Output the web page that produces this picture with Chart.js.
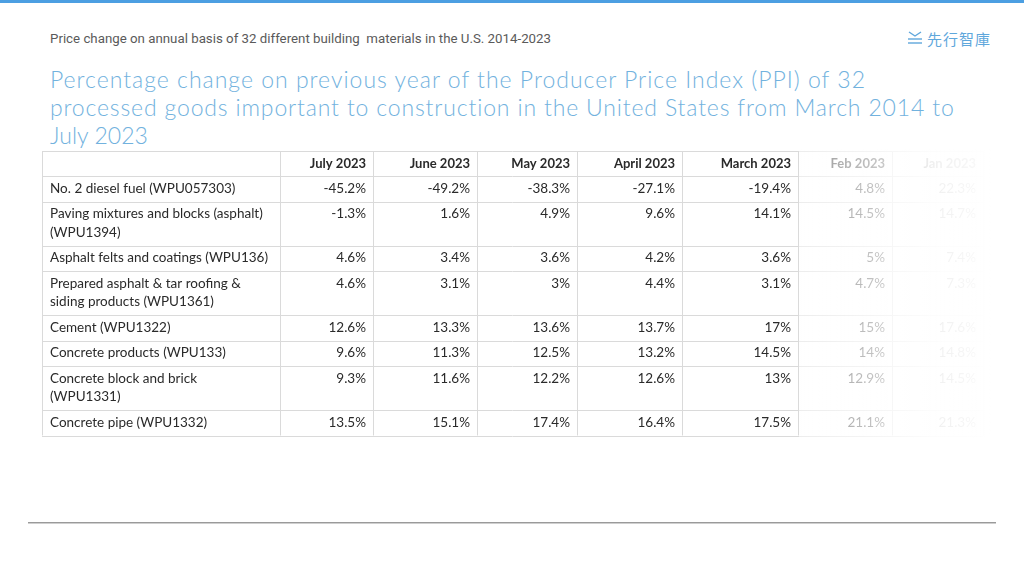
<!DOCTYPE html>
<html>
<head>
<meta charset="utf-8">
<script src="https://cdn.jsdelivr.net/npm/chart.js@4/dist/chart.umd.min.js"></script>
<style>
  html,body{margin:0;padding:0;background:#fff;}
  body{width:1024px;height:576px;position:relative;overflow:hidden;}
  #topbar{position:absolute;left:0;top:0;width:1024px;height:3px;background:#4c9fe2;}
  #sub{position:absolute;left:50px;top:32px;font:12px Roboto, sans-serif;color:#5a5a5a;white-space:pre;transform-origin:0 0;}
  .tl{position:absolute;left:50px;font:300 23px "Lato", sans-serif;color:#72b2de;white-space:pre;}
  #logo{position:absolute;left:907px;top:28px;height:20px;display:flex;align-items:center;}
  #logo span{font:15px "Noto Sans CJK TC", sans-serif;color:#5fa7dc;letter-spacing:1px;margin-left:4px;}
  #bottomline{position:absolute;left:28px;top:522px;width:968px;height:1px;background:#9a9a9a;border-bottom:1px solid #cfcfcf;}
  canvas{position:absolute;left:0;top:0;}
</style>
</head>
<body>
<div id="topbar"></div>
<div id="sub">Price change on annual basis of 32 different building  materials in the U.S. 2014-2023</div>
<div id="logo">
  <svg width="16" height="14" viewBox="0 0 16 14"><polyline points="2,1 8,5 14,1" fill="none" stroke="#5fa7dc" stroke-width="1.4"/><line x1="1" y1="8" x2="15" y2="8" stroke="#5fa7dc" stroke-width="1.4"/><line x1="1" y1="12" x2="15" y2="12" stroke="#5fa7dc" stroke-width="1.4"/></svg>
  <span>先行智庫</span>
</div>
<div class="tl" id="t1" style="top:65px">Percentage change on previous year of the Producer Price Index (PPI) of 32</div>
<div class="tl" id="t2" style="top:93px">processed goods important to construction in the United States from March 2014 to</div>
<div class="tl" id="t3" style="top:121px">July 2023</div>
<div id="bottomline"></div>
<canvas id="c" width="1024" height="576"></canvas>
<script>
// ---------------- DATA ----------------
const months = ["July 2023", "June 2023", "May 2023", "April 2023", "March 2023", "Feb 2023", "Jan 2023"];
const materials = [
  ["No. 2 diesel fuel (WPU057303)"],
  ["Paving mixtures and blocks (asphalt)", "(WPU1394)"],
  ["Asphalt felts and coatings (WPU136)"],
  ["Prepared asphalt & tar roofing &", "siding products (WPU1361)"],
  ["Cement (WPU1322)"],
  ["Concrete products (WPU133)"],
  ["Concrete block and brick", "(WPU1331)"],
  ["Concrete pipe (WPU1332)"]
];
const july2023  = [-45.2, -1.3, 4.6, 4.6, 12.6, 9.6, 9.3, 13.5];
const june2023  = [-49.2, 1.6, 3.4, 3.1, 13.3, 11.3, 11.6, 15.1];
const may2023   = [-38.3, 4.9, 3.6, 3, 13.6, 12.5, 12.2, 17.4];
const april2023 = [-27.1, 9.6, 4.2, 4.4, 13.7, 13.2, 12.6, 16.4];
const march2023 = [-19.4, 14.1, 3.6, 3.1, 17, 14.5, 13, 17.5];
const feb2023   = [4.8, 14.5, 5, 4.7, 15, 14, 12.9, 21.1];
const jan2023   = [22.3, 14.7, 7.4, 7.3, 17.6, 14.8, 14.5, 21.3];
const monthValues = [july2023, june2023, may2023, april2023, march2023, feb2023, jan2023];

// ---------------- LAYOUT (styles) ----------------
const colWidths = [238, 93, 104, 100, 105, 116, 94, 91];
const headerH = 25, rowPad = 7, lineH = 18.5;
const colEdges = [0];
colWidths.forEach(w => colEdges.push(colEdges[colEdges.length - 1] + w));
const rowEdges = [0, headerH];
materials.forEach(m => rowEdges.push(rowEdges[rowEdges.length - 1] + rowPad + lineH * m.length));
const totalW = colEdges[colEdges.length - 1];
const totalH = rowEdges[rowEdges.length - 1];

const FONT = '"Lato", "Open Sans", sans-serif';
const TXT = '#2a2a2a';
const GRID = '#dadada';

function fmt(v) { return String(v) + '%'; }

function fitWidth(el, w) {
  const r = el.getBoundingClientRect().width;
  el.style.transform = 'scaleX(' + (w / r) + ')';
}
function fitSpacing(el, w) {
  const r = el.getBoundingClientRect().width;
  const n = el.textContent.length;
  el.style.letterSpacing = ((w - r) / n) + 'px';
}
fitWidth(document.getElementById('sub'), 501);
fitSpacing(document.getElementById('t1'), 816);
fitSpacing(document.getElementById('t2'), 905);
fitSpacing(document.getElementById('t3'), 98);

const tablePlugin = {
  id: 'tablePlugin',
  afterDatasetsDraw(chart) {
    const { ctx } = chart;
    const x = chart.scales.x, y = chart.scales.y;
    const X = v => x.getPixelForValue(v);
    const Y = v => y.getPixelForValue(v);
    ctx.save();
    // grid
    ctx.strokeStyle = GRID;
    ctx.lineWidth = 1;
    colEdges.forEach(e => {
      const px = Math.round(X(e)) + 0.5;
      ctx.beginPath(); ctx.moveTo(px, Y(0)); ctx.lineTo(px, Y(totalH)); ctx.stroke();
    });
    rowEdges.forEach(e => {
      const py = Math.round(Y(e)) + 0.5;
      ctx.beginPath(); ctx.moveTo(X(0), py); ctx.lineTo(X(totalW), py); ctx.stroke();
    });
    // header
    ctx.fillStyle = TXT;
    ctx.textBaseline = 'middle';
    ctx.font = 'bold 13px ' + FONT;
    ctx.textAlign = 'right';
    months.forEach((m, j) => {
      ctx.fillText(m, X(colEdges[j + 2]) - 7, Y(headerH / 2) + 0.5);
    });
    // row labels
    ctx.font = '13.5px ' + FONT;
    ctx.textAlign = 'left';
    chart.data.labels.forEach((lines, i) => {
      lines.forEach((ln, k) => {
        ctx.fillText(ln, X(0) + 8, Y(rowEdges[i + 1] + 12.5 + k * lineH));
      });
    });
    // values
    ctx.textAlign = 'right';
    chart.data.datasets.forEach((ds, j) => {
      const meta = chart.getDatasetMeta(j);
      meta.data.forEach((pt, i) => {
        ctx.fillText(fmt(ds.values[i]), pt.x - 7, pt.y + 12.5);
      });
    });
    // fade on the right
    const fx0 = X(colEdges[6]), fx1 = X(totalW) + 8;
    const g = ctx.createLinearGradient(fx0, 0, fx1, 0);
    g.addColorStop(0, 'rgba(255,255,255,0.5)');
    g.addColorStop(0.45, 'rgba(255,255,255,0.75)');
    g.addColorStop(0.7, 'rgba(255,255,255,0.93)');
    g.addColorStop(1, 'rgba(255,255,255,0.98)');
    ctx.fillStyle = g;
    ctx.fillRect(fx0 + 1, Y(0) - 2, fx1 - fx0, Y(totalH) - Y(0) + 4);
    ctx.restore();
  }
};

new Chart(document.getElementById('c'), {
  type: 'scatter',
  data: {
    labels: materials,
    datasets: months.map((m, j) => ({
      label: m,
      values: monthValues[j],
      data: monthValues[j].map((v, i) => ({ x: colEdges[j + 2], y: rowEdges[i + 1] })),
      pointRadius: 0,
      pointHoverRadius: 0
    }))
  },
  options: {
    responsive: false,
    animation: false,
    devicePixelRatio: 1,
    layout: { padding: { left: 42, top: 151, right: 1024 - 42 - totalW, bottom: 576 - 151 - totalH } },
    plugins: { legend: { display: false }, tooltip: { enabled: false }, title: { display: false } },
    events: [],
    scales: {
      x: { type: 'linear', min: 0, max: totalW, display: false },
      y: { type: 'linear', min: 0, max: totalH, reverse: true, display: false }
    }
  },
  plugins: [tablePlugin]
});
</script>
</body>
</html>
